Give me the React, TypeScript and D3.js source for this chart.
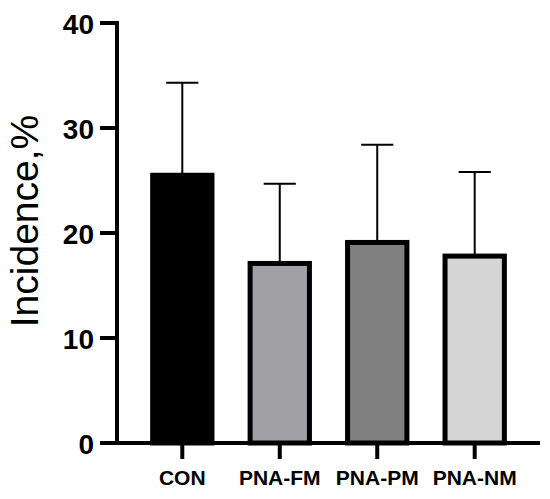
import React from "react";
import * as d3 from "d3";

const groups = ["CON", "PNA-FM", "PNA-PM", "PNA-NM"];
const means = [25.5, 17.1, 19.1, 17.8];
const sds = [8.8, 7.6, 9.3, 8.0];
const fills = ["#000000", "#a1a0a5", "#808080", "#d5d5d5"];
const yTicks = [0, 10, 20, 30, 40];

const W = 550;
const H = 499;
const font = "Arial, 'Liberation Sans', sans-serif";

const x = d3.scaleBand<string>().domain(groups).range([117, 540]).padding(0.34);
const y = d3.scaleLinear().domain([0, 40]).range([443, 23]);

const App = () => {
  const bw = x.bandwidth();
  return (
    <svg
      width={W}
      height={H}
      style={{ position: "absolute", left: 0, top: 0, background: "#fff" }}
    >
      {/* bars */}
      {groups.map((g, i) => {
        const x0 = x(g)!;
        const cx = x0 + bw / 2;
        const top = y(means[i]);
        const err = y(means[i] + sds[i]);
        return (
          <g key={g}>
            <line x1={cx} x2={cx} y1={top} y2={err} stroke="#000" strokeWidth={2} />
            <line x1={cx - bw / 4} x2={cx + bw / 4} y1={err} y2={err} stroke="#000" strokeWidth={2} />
            <rect
              x={x0 + 2.5}
              y={top}
              width={bw - 5}
              height={y(0) - top}
              fill={fills[i]}
              stroke="#000"
              strokeWidth={5}
            />
          </g>
        );
      })}

      {/* y axis */}
      <line x1={117} x2={117} y1={y(40) - 2} y2={y(0) + 2} stroke="#000" strokeWidth={4} />
      {yTicks.map((t) => (
        <g key={t}>
          <line x1={100} x2={117} y1={y(t)} y2={y(t)} stroke="#000" strokeWidth={4} />
          <text
            x={94}
            y={y(t) + 1}
            textAnchor="end"
            dominantBaseline="central"
            fontFamily={font}
            fontWeight="bold"
            fontSize={28}
            fill="#000"
          >
            {t}
          </text>
        </g>
      ))}

      {/* x axis */}
      <line x1={115} x2={540} y1={y(0)} y2={y(0)} stroke="#000" strokeWidth={4} />
      {groups.map((g) => {
        const cx = x(g)! + bw / 2;
        return (
          <g key={g}>
            <line x1={cx} x2={cx} y1={y(0)} y2={y(0) + 16} stroke="#000" strokeWidth={4} />
            <text
              x={cx}
              y={485}
              textAnchor="middle"
              fontFamily={font}
              fontWeight="bold"
              fontSize={21}
              fill="#000"
            >
              {g}
            </text>
          </g>
        );
      })}

      {/* y title */}
      <text
        transform={`translate(38,221) rotate(-90)`}
        textAnchor="middle"
        fontFamily={font}
        fontSize={39}
        fill="#000"
      >
        Incidence,%
      </text>
    </svg>
  );
};

export default App;
